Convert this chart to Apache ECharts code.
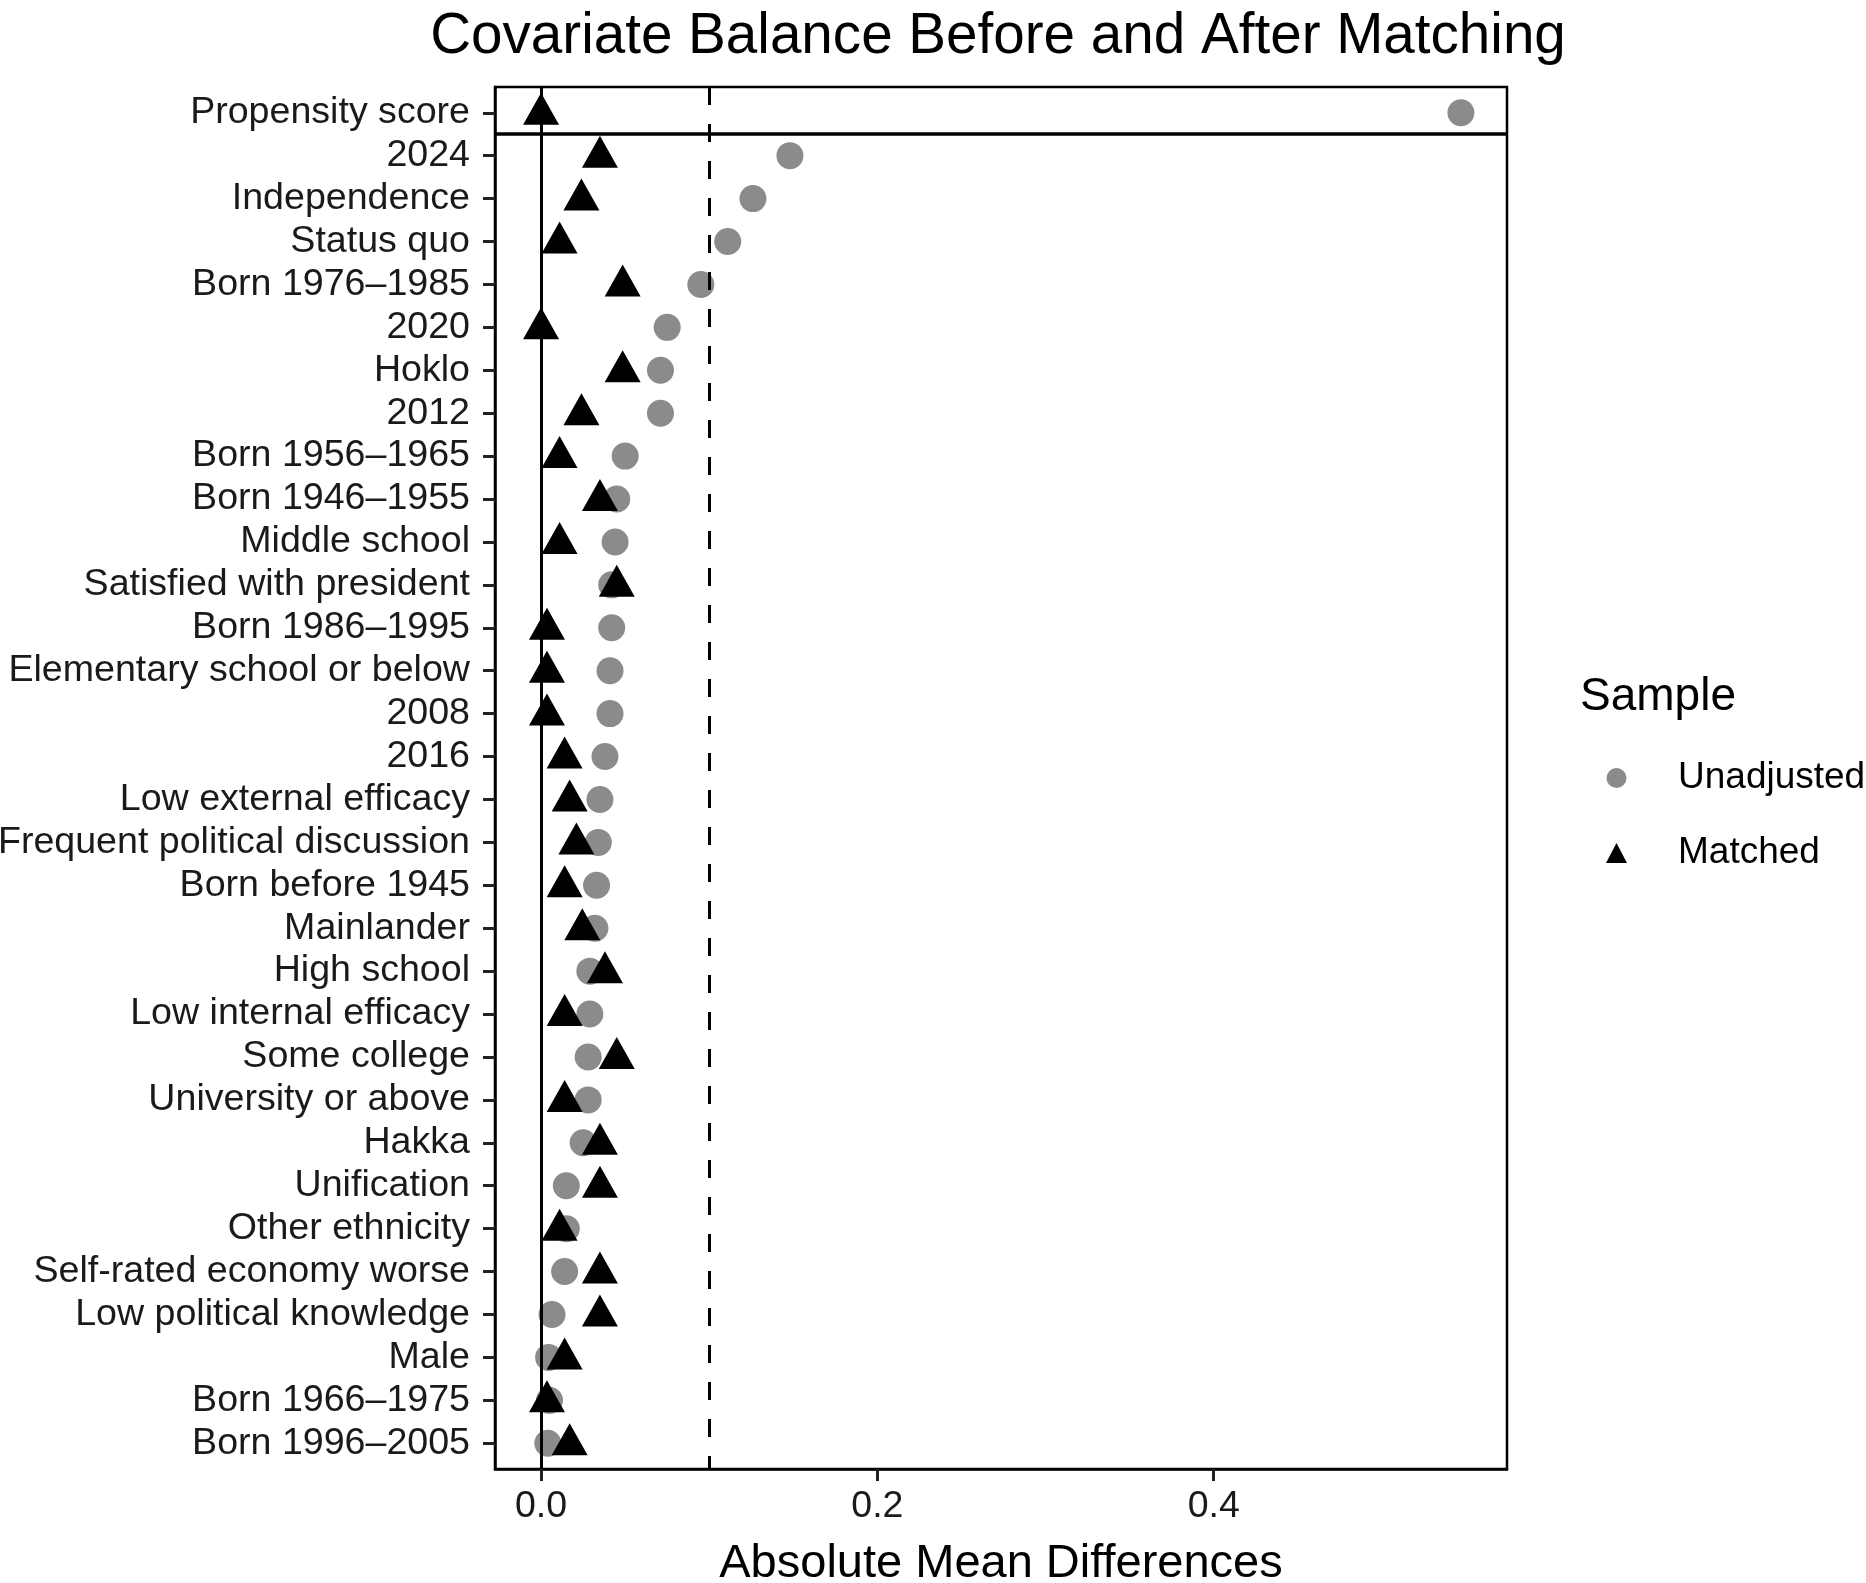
<!DOCTYPE html>
<html>
<head>
<meta charset="utf-8">
<title>Covariate Balance Before and After Matching</title>
<script src="https://cdn.jsdelivr.net/npm/echarts@6/dist/echarts.min.js"></script>
<style>
    html, body { margin: 0; padding: 0; background: #fff; }
    #chart { width: 1866px; height: 1583px; }
</style>
</head>
<body>
<div id="chart"></div>
<script>
// 协变量 (top to bottom)
var covariates = ['Propensity score', '2024', 'Independence', 'Status quo', 'Born 1976\u20131985', '2020',
    'Hoklo', '2012', 'Born 1956\u20131965', 'Born 1946\u20131955', 'Middle school', 'Satisfied with president',
    'Born 1986\u20131995', 'Elementary school or below', '2008', '2016', 'Low external efficacy',
    'Frequent political discussion', 'Born before 1945', 'Mainlander', 'High school', 'Low internal efficacy',
    'Some college', 'University or above', 'Hakka', 'Unification', 'Other ethnicity',
    'Self-rated economy worse', 'Low political knowledge', 'Male', 'Born 1966\u20131975', 'Born 1996\u20132005'];

// absolute mean differences
var unadjusted = [0.547, 0.148, 0.126, 0.111, 0.095, 0.075, 0.071, 0.071, 0.050, 0.045, 0.044, 0.042,
    0.042, 0.041, 0.041, 0.038, 0.035, 0.034, 0.033, 0.032, 0.029, 0.029, 0.028, 0.028,
    0.025, 0.015, 0.015, 0.014, 0.0065, 0.0045, 0.005, 0.004];
var matched = [0.000, 0.035, 0.024, 0.011, 0.0485, 0.000, 0.0485, 0.024, 0.011, 0.035, 0.011, 0.045,
    0.0035, 0.0035, 0.0035, 0.014, 0.017, 0.021, 0.014, 0.0245, 0.038, 0.014, 0.045, 0.014,
    0.035, 0.035, 0.011, 0.035, 0.035, 0.014, 0.0035, 0.017];

var xTicks = [0, 0.2, 0.4];
var threshold = 0.1;

var font = '"Liberation Sans", Arial, Helvetica, sans-serif';

function toPoints(values) {
    var out = [];
    for (var i = 0; i < values.length; i++) {
        out.push([values[i], i + 1]);
    }
    return out;
}

var rowTicks = [];
for (var i = 1; i <= covariates.length; i++) rowTicks.push(i);

var chart = echarts.init(document.getElementById('chart'));

var option = {
    backgroundColor: '#ffffff',
    animation: false,
    textStyle: { fontFamily: font },
    title: [{
        text: 'Covariate Balance Before and After Matching',
        left: 998,
        top: 9,
        textAlign: 'center',
        padding: 0,
        textStyle: { fontFamily: font, fontSize: 56.6, fontWeight: 'normal', color: '#000', lineHeight: 56 }
    }, {
        text: 'Sample',
        left: 1580,
        top: 674,
        padding: 0,
        textStyle: { fontFamily: font, fontSize: 46, fontWeight: 'normal', color: '#000', lineHeight: 46 }
    }],
    legend: {
        data: [
            { name: 'Unadjusted', icon: 'circle' },
            { name: 'Matched', icon: 'triangle' }
        ],
        orient: 'vertical',
        left: 1606,
        top: 758,
        padding: 0,
        itemWidth: 21,
        itemHeight: 20,
        itemGap: 35,
        selectedMode: false,
        textStyle: { fontFamily: font, fontSize: 37, color: '#000', lineHeight: 40, padding: [0, 0, 0, 46] }
    },
    grid: {
        left: 495,
        right: 359,
        top: 87,
        bottom: 114,
        show: true,
        borderColor: '#000',
        borderWidth: 2.5,
        containLabel: false,
        outerBoundsMode: 'none'
    },
    xAxis: {
        type: 'value',
        min: -0.0274,
        max: 0.5744,
        name: 'Absolute Mean Differences',
        nameLocation: 'middle',
        nameGap: 72,
        nameTextStyle: { fontFamily: font, fontSize: 47, color: '#000' },
        axisLine: { show: true, onZero: false, lineStyle: { color: '#000', width: 2.5 } },
        axisTick: { show: true, length: 12, customValues: xTicks, lineStyle: { color: '#222', width: 3 } },
        axisLabel: {
            customValues: xTicks,
            margin: 19,
            fontFamily: font,
            fontSize: 37.5,
            color: '#1a1a1a',
            formatter: function (v) { return v.toFixed(1); }
        },
        splitLine: { show: false }
    },
    yAxis: {
        type: 'value',
        inverse: true,
        min: 0.4,
        max: 32.6,
        axisLine: { show: true, onZero: false, lineStyle: { color: '#000', width: 2.5 } },
        axisTick: { show: true, length: 12, customValues: rowTicks, lineStyle: { color: '#222', width: 3 } },
        axisLabel: {
            customValues: rowTicks,
            margin: 25,
            padding: [6, 0, 0, 0],
            fontFamily: font,
            fontSize: 37.6,
            color: '#1a1a1a',
            formatter: function (v) { return covariates[Math.round(v) - 1] || ''; }
        },
        splitLine: { show: false }
    },
    series: [{
        // 参考线
        name: 'ref',
        type: 'scatter',
        data: [],
        z: 1,
        markLine: {
            silent: true,
            symbol: 'none',
            label: { show: false },
            animation: false,
            data: [
                { xAxis: 0, lineStyle: { type: 'solid', color: '#000', width: 3 } },
                { xAxis: threshold, lineStyle: { type: [18, 19], color: '#000', width: 3 } },
                { yAxis: 1.5, lineStyle: { type: 'solid', color: '#000', width: 3.5 } }
            ]
        }
    }, {
        name: 'Unadjusted',
        type: 'scatter',
        symbol: 'circle',
        symbolSize: 27,
        z: 3,
        itemStyle: { color: '#8b8b8b', opacity: 1 },
        data: toPoints(unadjusted)
    }, {
        name: 'Matched',
        type: 'scatter',
        symbol: 'triangle',
        symbolSize: [36, 32],
        symbolOffset: [0, -4],
        z: 4,
        itemStyle: { color: '#000', opacity: 1 },
        data: toPoints(matched)
    }]
};

chart.setOption(option);
window.addEventListener('resize', function () {
    chart.resize();
});
</script>
</body>
</html>
